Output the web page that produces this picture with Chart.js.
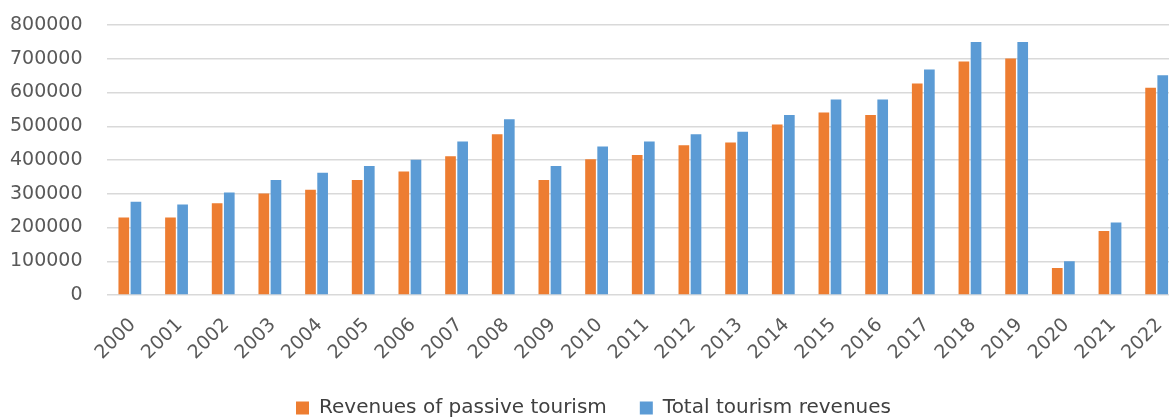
<!DOCTYPE html>
<html>
<head>
<meta charset="utf-8">
<script src="https://cdn.jsdelivr.net/npm/chart.js"></script>
<style>
    body { margin: 0; overflow: hidden; background: #ffffff; }
    #contenedor { width: 1180px; height: 428px; }
</style>
</head>
<body>
<div id="contenedor"><canvas id="grafico"></canvas></div>
<script>
const years = ['2000', '2001', '2002', '2003', '2004', '2005', '2006', '2007', '2008', '2009', '2010', '2011',
    '2012', '2013', '2014', '2015', '2016', '2017', '2018', '2019', '2020', '2021', '2022'];

const passiveRevenues = [230000, 230000, 272000, 301000, 312000, 341000, 366000, 411000, 476000, 341000, 402000, 415000,
    444000, 452000, 505000, 541000, 533000, 627000, 692000, 701000, 80000, 190000, 614000];

const totalRevenues = [276000, 268000, 304000, 341000, 362000, 382000, 401000, 455000, 521000, 382000, 440000, 455000,
    476000, 484000, 533000, 579000, 579000, 668000, 750000, 750000, 100000, 215000, 651000];

const yTicks = [0, 100000, 200000, 300000, 400000, 500000, 600000, 700000, 800000];

function mostrarGrafico() {
    const ctx = document.getElementById('grafico').getContext('2d');
    new Chart(ctx, {
        type: 'bar',
        data: {
            labels: years,
            datasets: [{
                label: 'Revenues of passive tourism',
                data: passiveRevenues,
                backgroundColor: '#ED7D31',
                categoryPercentage: 0.52,
                barPercentage: 0.88
            }, {
                label: 'Total tourism revenues',
                data: totalRevenues,
                backgroundColor: '#5B9BD5',
                categoryPercentage: 0.52,
                barPercentage: 0.88
            }]
        },
        options: {
            responsive: true,
            maintainAspectRatio: false,
            animation: false,
            layout: {
                padding: { top: 25, left: 7, right: 0, bottom: 0 }
            },
            plugins: {
                tooltip: { enabled: false },
                legend: {
                    position: 'bottom',
                    labels: {
                        boxWidth: 13,
                        boxHeight: 13,
                        padding: 33,
                        color: '#404040',
                        font: { family: 'DejaVu Sans', size: 20 }
                    }
                }
            },
            scales: {
                x: {
                    border: { display: false },
                    // invisible tick marks keep the gap under the axis
                    grid: {
                        drawOnChartArea: false,
                        drawTicks: true,
                        tickLength: 15,
                        tickColor: 'rgba(0,0,0,0)'
                    },
                    ticks: {
                        color: '#595959',
                        font: { family: 'DejaVu Sans', size: 19 },
                        maxRotation: 45,
                        minRotation: 45,
                        padding: 4,
                        labelOffset: 3
                    },
                    afterFit: function (axis) {
                        axis.height = 70;
                    }
                },
                y: {
                    min: 0,
                    max: 800000,
                    border: { display: false },
                    grid: {
                        color: '#d9d9d9',
                        lineWidth: 1.5,
                        drawTicks: true,
                        tickLength: 21,
                        tickColor: 'rgba(0,0,0,0)'
                    },
                    afterBuildTicks: function (axis) {
                        axis.ticks = yTicks.map(v => ({ value: v }));
                    },
                    ticks: {
                        color: '#595959',
                        font: { family: 'DejaVu Sans', size: 19 },
                        padding: 3,
                        callback: value => String(value)
                    }
                }
            }
        }
    });
}

mostrarGrafico();
</script>
</body>
</html>
